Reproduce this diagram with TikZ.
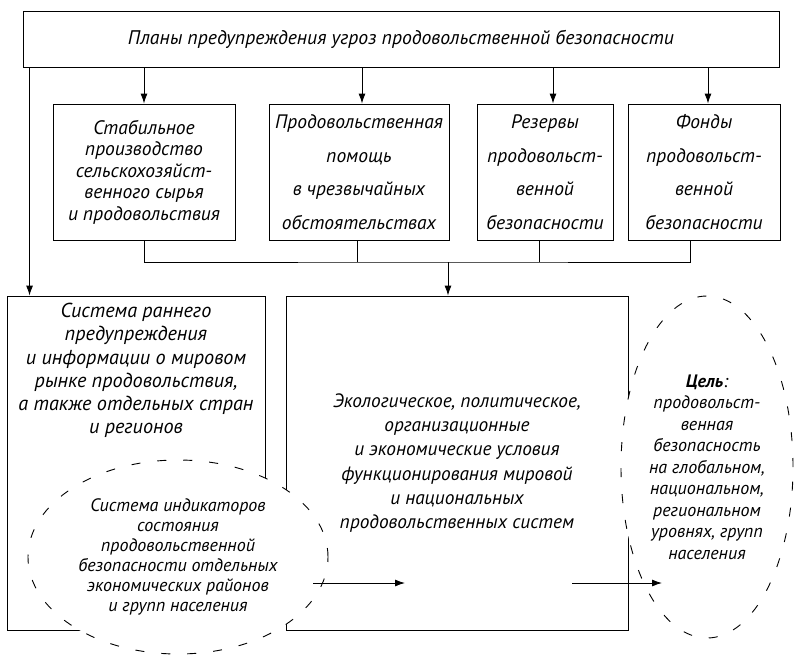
\documentclass[tikz,border=0pt]{standalone}
\usepackage{fontspec}
\setmainfont{PT Sans}
\usetikzlibrary{positioning,shapes.geometric,arrows.meta}

\begin{document}
\begin{tikzpicture}[x=1pt,y=-1pt,line width=0.9pt,>={Latex[length=10pt,width=7pt]},
    box/.style={draw,rectangle,inner sep=2pt,align=center},
    oval/.style={draw,ellipse,fill=white,dash pattern=on 9pt off 17pt,align=center,inner sep=0pt},
    fs/.style={font=\itshape\fontsize{#1}{#1}\selectfont}]
    \useasboundingbox (0,0) rectangle (795,656);
    \node[box,fs=19.7,minimum width=756pt,minimum height=56pt] (plan) at (401,39) {Планы предупреждения угроз продовольственной безопасности};
    \node[box,fs=19.5,minimum width=182pt,minimum height=136pt] (stab) at (144,172) {Стабильное\\[2pt]производство\\[2pt]сельскохозяйст-\\[2pt]венного сырья\\[2pt]и продовольствия};
    \node[box,fs=19.5,minimum width=180pt,minimum height=136pt] (pomo) at (359,172) {Продовольственная\\[14pt]помощь\\[14pt]в чрезвычайных\\[14pt]обстоятельствах};
    \node[box,fs=19.5,minimum width=136pt,minimum height=136pt] (rez) at (545,172) {Резервы\\[14pt]продовольст-\\[14pt]венной\\[14pt]безопасности};
    \node[box,fs=19.5,minimum width=152pt,minimum height=136pt] (fond) at (704,172) {Фонды\\[14pt]продовольст-\\[14pt]венной\\[14pt]безопасности};
    \node[box,minimum width=258pt,minimum height=334pt] (sys) at (136,463) {};
    \node[fs=20.2,align=center,anchor=north] (systxt) at ([yshift=-4pt]sys.north) {Система раннего\\[3pt]предупреждения\\[3pt]и информации о мировом\\[3pt]рынке продовольствия,\\[3pt]а также отдельных стран\\[3pt]и регионов};
    \node[box,fs=19.3,minimum width=342pt,minimum height=334pt] (uslov) at (457,463) {Экологическое, политическое,\\[5pt]организационные\\[5pt]и экономические условия\\[5pt]функционирования мировой\\[5pt]и национальных\\[5pt]продовольственных систем};
    \node[oval,fs=18,minimum width=300pt,minimum height=194pt] (indic) at (178,557) {Система индикаторов\\[2pt]состояния\\[2pt]продовольственной\\[2pt]безопасности отдельных\\[2pt]экономических районов\\[2pt]и групп населения};
    \node[oval,fs=18,minimum width=172pt,minimum height=342pt] (cel) at (707,467) {\textbf{Цель}:\\[3.5pt]продовольст-\\[3.5pt]венная\\[3.5pt]безопасность\\[3.5pt]на глобальном,\\[3.5pt]национальном,\\[3.5pt]региональном\\[3.5pt]уровнях, групп\\[3.5pt]населения};
    \coordinate (bus) at (448,262);
    \coordinate (from) at (313,583);
    \coordinate (into) at (405,583);
    \coordinate (out) at (572,583);
    \coordinate (goal) at (662,583);
    \draw[->] ([xshift=23pt]sys.north west |- plan.south) -- ([xshift=23pt]sys.north west);
    \draw[->] (stab.north |- plan.south) -- (stab.north);
    \draw[->] ([xshift=3pt]pomo.north |- plan.south) -- ([xshift=3pt]pomo.north);
    \draw[->] ([xshift=8pt]rez.north |- plan.south) -- ([xshift=8pt]rez.north);
    \draw[->] ([xshift=4pt]fond.north |- plan.south) -- ([xshift=4pt]fond.north);
    \draw (stab.south) |- (bus) -| ([xshift=-14pt]fond.south);
    \draw ([xshift=-2pt]pomo.south) -- ([xshift=-2pt]pomo.south |- bus);
    \draw ([xshift=-6pt]rez.south) -- ([xshift=-6pt]rez.south |- bus);
    \draw[->] (bus) -- (bus |- uslov.north);
    \draw[->] (from) -- (into);
    \draw[->] (out) -- (goal);
\end{tikzpicture}
\end{document}
